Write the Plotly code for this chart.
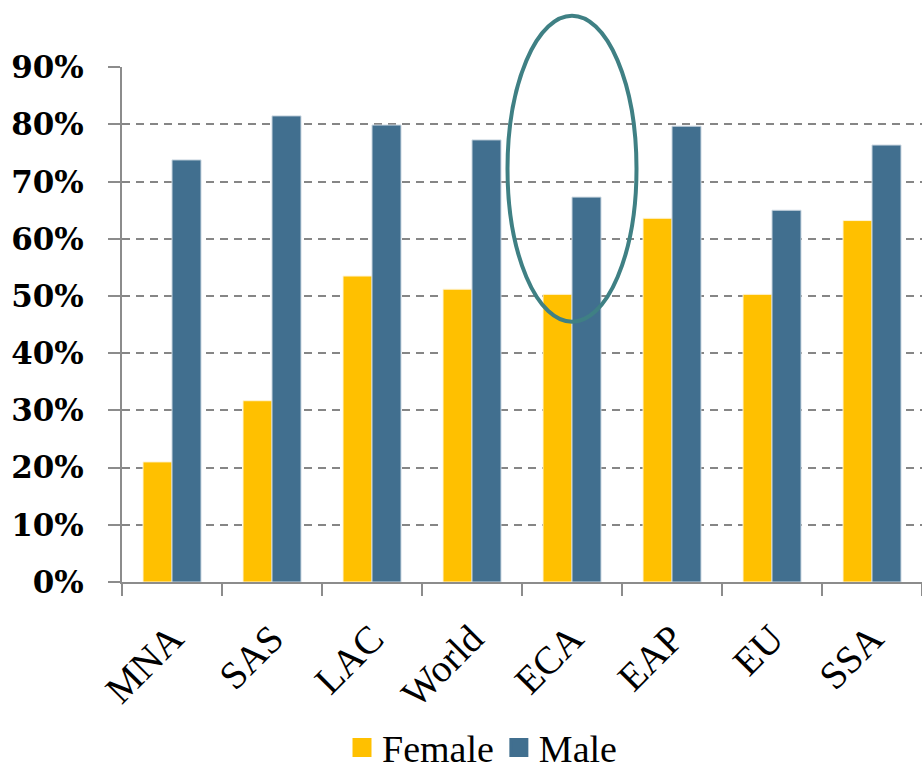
import plotly.graph_objects as go

# Labour force participation by region and sex
regions = ["MNA", "SAS", "LAC", "World", "ECA", "EAP", "EU", "SSA"]
female = [0.21, 0.317, 0.535, 0.512, 0.503, 0.636, 0.503, 0.632]
male = [0.738, 0.815, 0.799, 0.773, 0.673, 0.797, 0.650, 0.764]
y_ticks = [0, 0.1, 0.2, 0.3, 0.4, 0.5, 0.6, 0.7, 0.8, 0.9]
y_max = 0.9005

# Region singled out with an ellipse, and its vertical extent in data units
highlight = "ECA"
highlight_low, highlight_high = 0.455, 0.99

FEMALE_COLOR = "#FFC000"
MALE_COLOR = "#416F8F"
AXIS_COLOR = "#8C8C8C"

fig = go.Figure()
fig.add_trace(go.Bar(x=regions, y=female, name="Female", showlegend=False,
                     marker=dict(color=FEMALE_COLOR, line=dict(color="#FFF4D6", width=1))))
fig.add_trace(go.Bar(x=regions, y=male, name="Male", showlegend=False,
                     marker=dict(color=MALE_COLOR, line=dict(color="#C9D6E0", width=1))))

# Legend entries with larger square keys
for name, color in [("Female", FEMALE_COLOR), ("Male", MALE_COLOR)]:
    fig.add_trace(go.Scatter(x=[None], y=[None], mode="markers", name=name,
                             marker=dict(symbol="square", size=16, color=color,
                                         line=dict(color=color, width=3))))

# Ellipse around the highlighted region, placed in axis-domain fractions
n = len(regions)
idx = regions.index(highlight)
half_w = 0.645
fig.add_shape(type="circle", xref="x domain", yref="y domain",
              x0=(idx + 0.5 - half_w) / n, x1=(idx + 0.5 + half_w) / n,
              y0=highlight_low / y_max, y1=highlight_high / y_max,
              line=dict(color="#3F8084", width=4), fillcolor="rgba(0,0,0,0)",
              layer="above")

fig.update_layout(
    width=922, height=770,
    margin=dict(l=122, r=0, t=67, b=188, autoexpand=False),
    paper_bgcolor="white", plot_bgcolor="white",
    barmode="group", bargap=0.42, bargroupgap=0,
    showlegend=True,
    legend=dict(orientation="h", x=0.45, xanchor="center", y=-0.322, yanchor="middle",
                font=dict(family="Liberation Serif", size=38, color="black"),
                traceorder="normal", itemwidth=30, tracegroupgap=0),
    xaxis=dict(
        tickangle=-45, automargin=False,
        tickfont=dict(family="Liberation Serif", size=39, color="black"),
        showline=True, linecolor=AXIS_COLOR, linewidth=2,
        ticks="outside", tickson="boundaries", ticklen=12, tickwidth=2, tickcolor=AXIS_COLOR,
        ticklabelstandoff=16,
        showgrid=False,
    ),
    yaxis=dict(
        range=[0, y_max], tickvals=y_ticks, tickformat=".0%", automargin=False,
        tickfont=dict(family="DejaVu Serif", size=31, color="black", weight="bold"),
        showline=True, linecolor=AXIS_COLOR, linewidth=2,
        ticks="outside", ticklen=12, tickwidth=2, tickcolor=AXIS_COLOR,
        ticklabelstandoff=18,
        showgrid=True, gridcolor="#868686", gridwidth=2, griddash="8px,6px",
        zeroline=False,
    ),
)

fig.write_html("out.html")
